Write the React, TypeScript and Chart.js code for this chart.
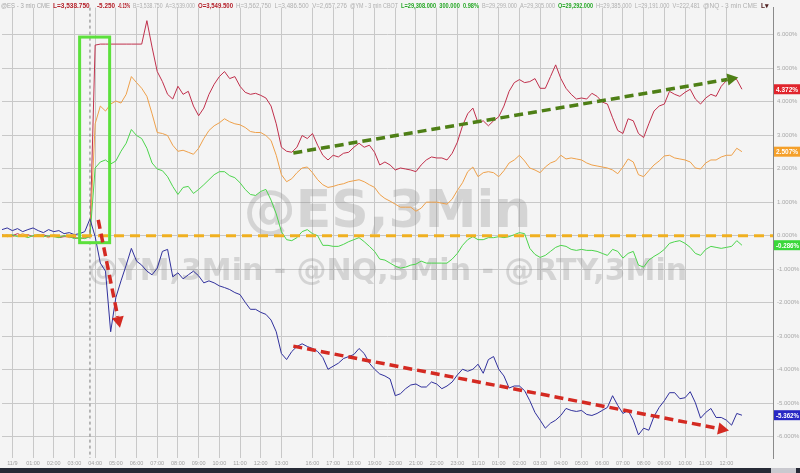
import React, { useEffect, useRef } from "react";
import { Chart, registerables } from "chart.js";

Chart.register(...registerables);

// ---------- categories (15-minute slots) ----------
const pad = (n: number) => (n < 10 ? "0" : "") + n;
const fmt = (min: number) => pad(Math.floor(min / 60) % 24) + ":" + pad(min % 60);
const SLOT_LABELS: string[] = (() => {
  const out = ["23:30", "23:45"];
  for (let m = 0; m <= 780; m += 15) out.push(m === 0 ? "11/9" : fmt(m));
  out.push("13:15", "13:30", "13:45", "15:30", "15:45");
  for (let m = 960; m <= 960 + 89 * 15; m += 15) out.push(m === 1440 ? "11/10" : fmt(m));
  return out;
})();

// ---------- series (% change) ----------
const RED_VALUES = [
  0.03, -0.03, 0, 0.06, 0, 0.03, -0.03, 0, 0.03, -0.03, 0, -0.06, -0.03, -0.03, -0.06, -0.09, -0.06,
  -0.03,
  5.69, 5.72, 5.72, 5.72, 5.72, 5.72, 5.72, 5.72, 5.72, 5.72,
  6.42, 5.63, 4.9, 4.6, 4.22, 4.08, 4.46, 4.22, 4.31, 3.87,
  3.58, 3.81, 4.22, 4.52, 4.75, 4.9, 4.69, 4.75, 4.46, 4.28,
  4.22, 4.25, 4.19, 4.11, 3.87, 3.34, 2.64, 2.52, 2.49, 2.64,
  2.99, 2.9, 3.05, 2.7, 2.4, 2.26, 2.4, 2.35, 2.46, 2.49,
  2.64, 2.76, 2.64, 2.7, 2.49, 2.11, 2.2, 2.11, 1.96, 2.02,
  1.99, 1.96, 1.91, 2.11, 2.26, 2.35, 2.32, 2.32, 2.26, 2.46,
  2.79, 3.28, 3.64, 3.81, 3.37, 3.43, 3.28, 3.43, 3.55, 3.87,
  4.31, 4.57, 4.66, 4.57, 4.6, 4.69, 4.4, 4.4, 4.75, 5.1,
  4.69, 4.4, 4.22, 4.08, 4.11, 4.08, 4.25, 4.16, 3.99, 3.93,
  3.52, 3.14, 3.05, 3.49, 3.43, 3.05, 2.93, 3.34, 3.72, 3.87,
  3.93, 4.31, 4.22, 4.16, 4.28, 4.37, 4.08, 3.93, 4.11, 4.22,
  4.16, 4.46, 4.63, 4.69, 4.66, 4.372,
];
const ORANGE_VALUES = [
  0, 0.03, -0.03, 0, 0.06, 0, -0.03, 0.03, 0, -0.06, 0.03, -0.03, 0, -0.06, -0.03, -0.09, -0.06,
  0,
  3.34, 3.87, 3.72, 3.93, 4.02, 3.96, 4.22, 4.75, 4.57, 4.4,
  4.16, 3.64, 3.08, 3.05, 2.99, 2.7, 2.52, 2.55, 2.49, 2.43,
  2.61, 2.9, 3.14, 3.28, 3.37, 3.49, 3.4, 3.34, 3.31, 3.23,
  3.11, 3.08, 3.08, 2.99, 2.84, 2.4, 1.82, 1.61, 1.7, 1.88,
  2.02, 2.05, 1.88, 1.67, 1.52, 1.44, 1.47, 1.52, 1.55, 1.61,
  1.64, 1.67, 1.61, 1.52, 1.44, 1.23, 1.11, 1.03, 0.94, 0.85,
  0.85, 0.85, 0.73, 0.82, 1.0, 1.0, 1.0, 0.97, 0.94, 1.09,
  1.35, 1.58, 1.91, 2.05, 1.76, 1.88, 1.91, 1.88, 1.76, 1.94,
  2.17, 2.26, 2.4, 2.23, 2.02, 1.96, 1.88, 2.05, 2.17, 2.23,
  2.4, 2.29, 2.32, 2.29, 2.26, 2.17, 2.11, 2.08, 2.05, 2.02,
  1.96, 1.85, 2.05, 2.29, 2.2, 1.82, 1.76, 1.94, 2.11, 2.23,
  2.38, 2.4, 2.32, 2.29, 2.26, 2.2, 2.02, 1.99, 2.17, 2.26,
  2.26, 2.35, 2.4, 2.4, 2.61, 2.507,
];
const GREEN_VALUES = [
  -0.03, 0, 0.03, -0.03, 0, -0.06, 0, 0.03, -0.03, 0, -0.03, -0.06, 0, -0.03, -0.09, -0.06, -0.09,
  -0.03,
  2.02, 2.2, 2.26, 2.14, 2.23, 2.52, 2.76, 3.17, 2.99, 2.9,
  2.61, 2.17, 1.99, 1.94, 1.76, 1.47, 1.23, 1.44, 1.47, 1.26,
  1.38, 1.52, 1.67, 1.82, 1.91, 1.91, 1.79, 1.73, 1.58, 1.38,
  1.23, 1.2, 1.32, 1.38, 1.06, 0.65, 0.12, -0.12, -0.15, -0.06,
  0.12, 0.18, 0.06, 0, -0.29, -0.29, -0.32, -0.32, -0.26, -0.18,
  -0.12, -0.06, -0.18, -0.32, -0.47, -0.7, -0.73, -0.82, -0.91, -0.97,
  -0.94, -0.88, -0.85, -0.76, -0.82, -0.82, -0.82, -0.82, -0.82, -0.7,
  -0.53, -0.29, -0.12, -0.03, -0.12, -0.12, -0.06, -0.06, -0.03, -0.06,
  -0.03, 0.03, 0.09, 0.06, -0.38, -0.56, -0.65, -0.59, -0.47, -0.35,
  -0.29, -0.32, -0.41, -0.44, -0.41, -0.44, -0.44, -0.47, -0.53, -0.59,
  -0.41, -0.47, -0.67, -0.53, -0.47, -0.88, -0.94, -0.73, -0.62, -0.53,
  -0.41, -0.23, -0.18, -0.15, -0.23, -0.35, -0.53, -0.59, -0.41, -0.32,
  -0.35, -0.38, -0.35, -0.32, -0.15, -0.286,
];
const BLUE_VALUES = [
  0.18, 0.23, 0.15, 0.21, 0.12, 0.18, 0.23, 0.15, 0.09, 0.18, 0.12, 0.15, 0.06, 0.09, 0.03, 0.06, 0.12,
  0.5,
  -0.03, -0.82, -1.06, -2.87, -1.85, -1.35, -0.88, -0.38, -0.76, -0.88,
  -1.06, -1.17, -0.97, -0.47, -0.41, -1.23, -1.11, -1.29, -1.17, -1.06,
  -1.2, -1.41, -1.35, -1.41, -1.5, -1.55, -1.61, -1.7, -1.76, -1.99,
  -2.2, -2.2, -2.29, -2.35, -2.52, -2.87, -3.52, -3.7, -3.46, -3.31,
  -3.23, -3.31, -3.37, -3.46, -3.64, -3.99, -3.9, -3.81, -3.67, -3.61,
  -3.55, -3.37, -3.52, -3.81, -3.99, -4.13, -4.19, -4.28, -4.78, -4.72,
  -4.57, -4.46, -4.43, -4.52, -4.52, -4.37, -4.43, -4.57, -4.49, -4.37,
  -4.16, -3.99, -4.05, -3.99, -3.84, -4.11, -3.7, -3.61, -3.99, -4.19,
  -4.55, -4.49, -4.49, -4.63, -4.93, -5.28, -5.51, -5.75, -5.6, -5.51,
  -5.37, -5.16, -5.22, -5.25, -5.22, -5.34, -5.37, -5.31, -5.22, -5.13,
  -4.78, -5.07, -5.31, -5.22, -5.51, -5.95, -5.75, -5.81, -5.4, -5.13,
  -4.93, -4.69, -4.69, -4.87, -4.84, -4.66, -4.99, -5.45, -5.28, -5.16,
  -5.43, -5.43, -5.51, -5.66, -5.31, -5.362,
];

const Y_TICKS = [-6, -5, -4, -3, -2, -1, 0, 1, 2, 3, 4, 5, 6];
const Y_MIN = -6.64;
const Y_MAX = 6.81;

const SERIES = [
  { name: "@YM", values: RED_VALUES, line: "#c0304c", box: "#e0242c", text: "#ffffff" },
  { name: "@ES", values: ORANGE_VALUES, line: "#eea04a", box: "#f5a02a", text: "#ffffff" },
  { name: "@RTY", values: GREEN_VALUES, line: "#4cd44c", box: "#3ad83a", text: "#ffffff" },
  { name: "@NQ", values: BLUE_VALUES, line: "#30309c", box: "#2828c4", text: "#ffffff" },
];

// annotation anchors in data units (slot index, % value)
const EVENT_SLOT = 17;
const GREEN_BOX = { x1: 15.0, x2: 20.8, y1: 5.93, y2: -0.21 };
const ARROW_UP = { x1: 56.3, y1: 2.47, x2: 142.3, y2: 4.72 };
const ARROW_DOWN_1 = { x1: 18.6, y1: 0.47, x2: 22.8, y2: -2.75 };
const ARROW_DOWN_2 = { x1: 56.3, y1: -3.3, x2: 140.5, y2: -5.82 };

const HEADER = [
  { x: 1, t: "@ES - 3 min CME", c: "#a8a8a8", b: false },
  { x: 53, t: "L=3,538.750", c: "#b4202a", b: true },
  { x: 97, t: "-5.250", c: "#b4202a", b: true },
  { x: 118, t: "-0.15%", c: "#b4202a", b: true },
  { x: 133, t: "B=3,538.750  A=3,539.000", c: "#b0b0b0", b: false },
  { x: 198, t: "O=3,549.500", c: "#b4202a", b: true },
  { x: 236, t: "H=3,562.750  L=3,486.500  V=2,657,276", c: "#b0b0b0", b: false },
  { x: 350, t: "@YM - 3 min CBOT", c: "#b0b0b0", b: false },
  { x: 401, t: "L=29,308.000  300.000  0.98%", c: "#28a828", b: true },
  { x: 482, t: "B=29,299.000  A=29,305.000", c: "#b0b0b0", b: false },
  { x: 558, t: "O=29,292.000", c: "#28a828", b: true },
  { x: 596, t: "H=29,385.000  L=29,191.000  V=222,481", c: "#b0b0b0", b: false },
  { x: 703, t: "@NQ - 3 min CME", c: "#b0b0b0", b: false },
  { x: 761, t: "L▾", c: "#502020", b: true },
];

const isHourSlot = (i: number) => {
  const l = SLOT_LABELS[i];
  if (!l || i >= RED_VALUES.length) return false;
  return l.endsWith(":00") || l.includes("/");
};

function drawArrow(ctx: CanvasRenderingContext2D, x1: number, y1: number, x2: number, y2: number, color: string, w: number, head: number) {
  const ang = Math.atan2(y2 - y1, x2 - x1);
  const bx = x2 - Math.cos(ang) * head;
  const by = y2 - Math.sin(ang) * head;
  ctx.save();
  ctx.strokeStyle = color;
  ctx.lineWidth = w;
  ctx.setLineDash([9, 5]);
  ctx.beginPath();
  ctx.moveTo(x1, y1);
  ctx.lineTo(bx, by);
  ctx.stroke();
  ctx.setLineDash([]);
  ctx.fillStyle = color;
  ctx.beginPath();
  ctx.moveTo(x2, y2);
  ctx.lineTo(bx + Math.cos(ang + Math.PI / 2) * head * 0.55, by + Math.sin(ang + Math.PI / 2) * head * 0.55);
  ctx.lineTo(bx + Math.cos(ang - Math.PI / 2) * head * 0.55, by + Math.sin(ang - Math.PI / 2) * head * 0.55);
  ctx.closePath();
  ctx.fill();
  ctx.restore();
}

const decorPlugin = {
  id: "decor",
  beforeDraw(chart: any) {
    const { ctx, width, height } = chart;
    ctx.save();
    ctx.fillStyle = "#f4f4f4";
    ctx.fillRect(0, 0, width, height);
    ctx.restore();
  },
  beforeDatasetsDraw(chart: any) {
    const { ctx, chartArea } = chart;
    const cx = (chartArea.left + chartArea.right) / 2;
    ctx.save();
    ctx.textAlign = "center";
    ctx.textBaseline = "alphabetic";
    ctx.fillStyle = "rgba(140,140,140,0.3)";
    ctx.font = "bold 52px 'DejaVu Sans'";
    ctx.fillText("@ES,3Min", cx, 227);
    ctx.font = "bold 30px 'DejaVu Sans'";
    ctx.fillText("@YM,3Min - @NQ,3Min - @RTY,3Min", cx, 280);
    ctx.restore();
  },
  afterDatasetsDraw(chart: any) {
    const { ctx, chartArea, scales } = chart;
    const xs = scales.x;
    const ys = scales.y;
    ctx.save();
    // event marker
    const ex = xs.getPixelForValue(EVENT_SLOT);
    ctx.strokeStyle = "#7a7a7a";
    ctx.lineWidth = 1;
    ctx.setLineDash([3, 3]);
    ctx.beginPath();
    ctx.moveTo(ex, chartArea.top);
    ctx.lineTo(ex, chartArea.bottom);
    ctx.stroke();
    // zero line
    const zy = ys.getPixelForValue(0);
    ctx.strokeStyle = "#f0b020";
    ctx.lineWidth = 3;
    ctx.setLineDash([10, 6]);
    ctx.beginPath();
    ctx.moveTo(chartArea.left, zy);
    ctx.lineTo(chartArea.right, zy);
    ctx.stroke();
    ctx.setLineDash([]);
    // green box
    const bx1 = xs.getPixelForValue(GREEN_BOX.x1);
    const bx2 = xs.getPixelForValue(GREEN_BOX.x2);
    const by1 = ys.getPixelForValue(GREEN_BOX.y1);
    const by2 = ys.getPixelForValue(GREEN_BOX.y2);
    ctx.strokeStyle = "#5ce03c";
    ctx.lineWidth = 3;
    ctx.strokeRect(bx1, by1, bx2 - bx1, by2 - by1);
    ctx.restore();
    const A = (a: any, c: string) =>
      drawArrow(ctx, xs.getPixelForValue(a.x1), ys.getPixelForValue(a.y1), xs.getPixelForValue(a.x2), ys.getPixelForValue(a.y2), c, 3.5, 11);
    A(ARROW_UP, "#4e7f16");
    A(ARROW_DOWN_1, "#d42a22");
    A(ARROW_DOWN_2, "#d42a22");
  },
  afterDraw(chart: any) {
    const { ctx, chartArea, scales, width, height } = chart;
    const ys = scales.y;
    ctx.save();
    // last value boxes
    ctx.font = "bold 6.5px 'Liberation Sans'";
    ctx.textBaseline = "middle";
    ctx.textAlign = "left";
    SERIES.forEach((s) => {
      const v = s.values[s.values.length - 1];
      const y = ys.getPixelForValue(v);
      ctx.fillStyle = s.box;
      ctx.fillRect(chartArea.right + 1, y - 5, width - chartArea.right - 1, 10);
      ctx.fillStyle = s.text;
      ctx.fillText(v.toFixed(3) + "%", chartArea.right + 3, y + 0.5, width - chartArea.right - 4);
    });
    // header
    ctx.textBaseline = "middle";
    HEADER.forEach((h, i) => {
      const next = HEADER[i + 1] ? HEADER[i + 1].x : width;
      ctx.font = (h.b ? "bold " : "") + "6.5px 'Liberation Sans'";
      ctx.fillStyle = h.c;
      ctx.fillText(h.t, h.x, 6, Math.max(4, next - h.x - 3));
    });
    // bottom bar
    ctx.fillStyle = "#262a36";
    ctx.fillRect(0, height - 5, width, 5);
    ctx.fillStyle = "#c9c9cf";
    ctx.fillRect(chartArea.right - 2, height - 5, 25, 5);
    ctx.restore();
  },
};

export default function App() {
  const ref = useRef<HTMLCanvasElement>(null);
  useEffect(() => {
    if (!ref.current) return;
    const chart = new Chart(ref.current, {
      type: "line",
      data: {
        labels: SLOT_LABELS,
        datasets: SERIES.slice().reverse().map((s) => ({
          label: s.name,
          data: s.values,
          borderColor: s.line,
          borderWidth: 1,
          pointRadius: 0,
          tension: 0,
          fill: false,
        })),
      },
      options: {
        responsive: false,
        animation: false,
        events: [],
        layout: { padding: { left: 0, right: 0, top: 0, bottom: 5 } },
        plugins: { legend: { display: false }, tooltip: { enabled: false } },
        scales: {
          x: {
            type: "category",
            offset: false,
            afterFit: (s: any) => {
              s.height = 10;
            },
            border: { display: false },
            grid: {
              drawTicks: false,
              lineWidth: 1,
              color: (c: any) => (isHourSlot(c.index) ? "#c8c8c8" : "rgba(0,0,0,0)"),
            },
            ticks: {
              autoSkip: false,
              maxRotation: 0,
              minRotation: 0,
              padding: 2,
              color: "#a0a0a0",
              font: { size: 5.5, family: "'Liberation Sans'" },
              callback: (_v: any, i: number) => (isHourSlot(i) ? SLOT_LABELS[i] : ""),
            },
          },
          y: {
            position: "right",
            min: Y_MIN,
            max: Y_MAX,
            afterFit: (s: any) => {
              s.width = 27;
            },
            afterBuildTicks: (s: any) => {
              s.ticks = Y_TICKS.map((v) => ({ value: v }));
            },
            border: { display: true, color: "#8a8a8a", width: 1 },
            grid: { drawTicks: false, color: "#c8c8c8", lineWidth: 1 },
            ticks: {
              padding: 4,
              color: "#a8a8a8",
              font: { size: 6, family: "'Liberation Sans'" },
              callback: (v: any) => Number(v).toFixed(3) + "%",
            },
          },
        },
      },
      plugins: [decorPlugin],
    });
    return () => chart.destroy();
  }, []);
  return (
    <div style={{ position: "fixed", left: 0, top: 0, width: 800, height: 473, background: "#f4f4f4" }}>
      <canvas ref={ref} width={800} height={473} style={{ display: "block", width: 800, height: 473 }} />
    </div>
  );
}
